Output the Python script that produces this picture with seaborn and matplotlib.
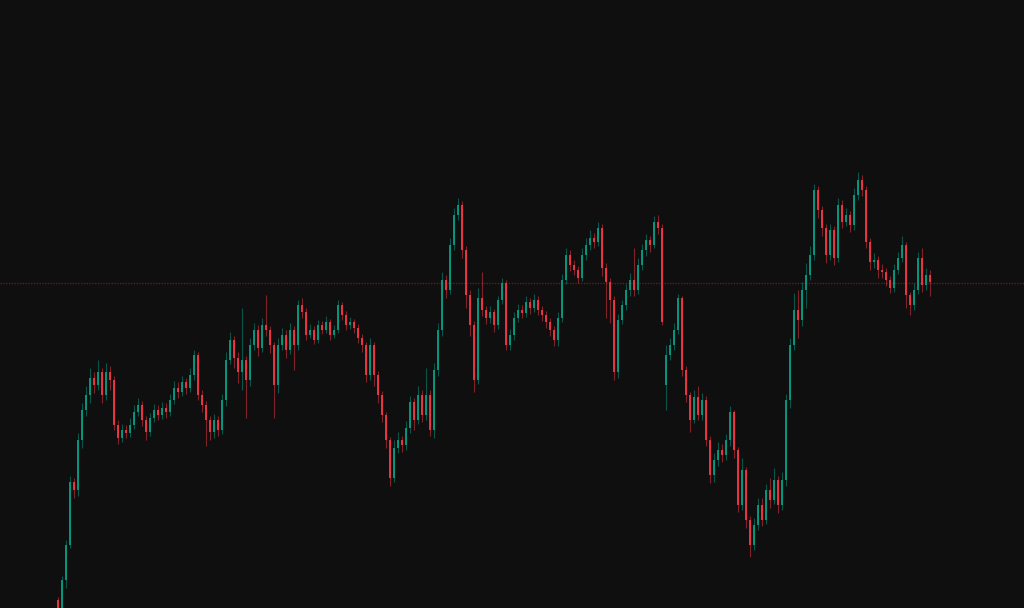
import numpy as np
import pandas as pd
import matplotlib
matplotlib.use("Agg")
import matplotlib.pyplot as plt
import seaborn as sns

# OHLC values (price units, one candle per step)
opens = [
    8, 0, 28, 63, 126, 118, 168, 198, 213, 230, 223, 236, 213, 236, 228, 183, 170, 178, 175, 183,
    196, 203, 188, 176, 190, 198, 193, 200, 196, 208, 220, 216, 226, 220, 233, 253, 213, 203, 188, 176,
    188, 178, 208, 248, 268, 250, 236, 248, 228, 263, 278, 260, 283, 278, 263, 223, 263, 273, 258, 278,
    263, 303, 296, 273, 278, 268, 283, 278, 286, 273, 278, 303, 293, 283, 286, 280, 270, 263, 233, 263,
    233, 213, 193, 168, 130, 160, 168, 163, 180, 206, 188, 213, 193, 213, 178, 238, 278, 328, 318, 363,
    393, 403, 358, 313, 283, 228, 310, 298, 290, 296, 283, 308, 325, 263, 273, 290, 298, 295, 306, 300,
    308, 298, 293, 286, 278, 268, 290, 328, 353, 343, 338, 330, 353, 363, 370, 366, 380, 340, 326, 308,
    236, 288, 303, 318, 328, 318, 343, 358, 368, 363, 386, 380, 223, 253, 263, 278, 310, 238, 213, 188,
    211, 193, 208, 168, 133, 148, 158, 153, 168, 196, 158, 103, 138, 88, 63, 83, 103, 88, 118, 108,
    128, 103, 128, 208, 263, 298, 288, 318, 333, 353, 418, 398, 380, 353, 378, 350, 403, 386, 393, 383,
    413, 428, 418, 366, 346, 348, 338, 336, 328, 320, 338, 350, 363, 313, 303, 318, 350, 323, 333,
]
closes = [
    0, 28, 63, 126, 118, 168, 198, 213, 230, 223, 236, 213, 236, 228, 183, 170, 178, 175, 183, 196,
    203, 188, 176, 190, 198, 193, 200, 196, 208, 220, 216, 226, 220, 233, 253, 213, 203, 188, 176, 188,
    178, 208, 248, 268, 250, 236, 248, 228, 263, 278, 260, 283, 278, 263, 223, 263, 273, 258, 278, 263,
    303, 296, 273, 278, 268, 283, 278, 286, 273, 278, 303, 293, 283, 286, 280, 270, 263, 233, 263, 233,
    213, 193, 168, 130, 160, 168, 163, 180, 206, 188, 213, 193, 213, 178, 238, 278, 328, 318, 363, 393,
    403, 358, 313, 283, 228, 310, 298, 290, 296, 283, 308, 325, 263, 273, 290, 298, 295, 306, 300, 308,
    298, 293, 286, 278, 268, 290, 328, 353, 343, 338, 330, 353, 363, 370, 366, 380, 340, 326, 308, 236,
    288, 303, 318, 328, 318, 343, 358, 368, 363, 386, 380, 286, 253, 263, 278, 310, 238, 213, 188, 211,
    193, 208, 168, 133, 148, 158, 153, 168, 196, 158, 103, 138, 88, 63, 83, 103, 88, 118, 108, 128,
    103, 128, 208, 263, 298, 288, 318, 333, 353, 418, 398, 380, 353, 378, 350, 403, 386, 393, 383, 413,
    428, 418, 366, 346, 348, 338, 336, 328, 320, 338, 350, 363, 313, 303, 318, 350, 323, 333, 326,
]
highs = [
    11, 32, 68, 132, 130, 175, 205, 222, 240, 236, 248, 240, 245, 242, 232, 188, 184, 183, 190, 203,
    210, 207, 192, 195, 204, 203, 206, 205, 214, 227, 226, 232, 230, 240, 258, 256, 218, 207, 192, 194,
    192, 214, 256, 276, 272, 256, 300, 252, 270, 285, 283, 290, 313, 282, 266, 270, 280, 278, 285, 282,
    308, 310, 300, 284, 282, 288, 287, 292, 289, 283, 308, 306, 297, 291, 289, 284, 274, 266, 270, 266,
    237, 217, 196, 171, 168, 176, 172, 187, 212, 210, 222, 218, 240, 218, 245, 285, 336, 333, 370, 400,
    410, 407, 362, 318, 287, 320, 336, 302, 302, 299, 312, 330, 328, 279, 296, 304, 303, 312, 310, 314,
    312, 302, 297, 290, 282, 296, 334, 360, 358, 348, 342, 360, 370, 378, 375, 386, 384, 345, 330, 312,
    294, 308, 324, 335, 360, 350, 364, 374, 372, 392, 393, 384, 263, 270, 285, 314, 312, 242, 216, 218,
    222, 215, 212, 172, 155, 166, 164, 174, 202, 198, 161, 150, 141, 92, 90, 110, 110, 124, 130, 140,
    132, 136, 214, 270, 315, 318, 326, 345, 362, 424, 422, 402, 384, 384, 382, 410, 408, 400, 397, 420,
    436, 433, 422, 370, 355, 352, 344, 340, 332, 344, 356, 372, 366, 316, 325, 356, 360, 340, 338,
]
lows = [
    -5, -5, 20, 60, 110, 112, 160, 192, 205, 215, 218, 205, 208, 218, 178, 164, 166, 170, 171, 179,
    192, 182, 168, 172, 186, 188, 189, 190, 192, 204, 210, 212, 214, 216, 228, 208, 196, 162, 168, 170,
    172, 174, 202, 244, 240, 225, 218, 190, 222, 258, 252, 256, 272, 255, 190, 215, 258, 250, 254, 238,
    258, 290, 268, 270, 264, 265, 274, 275, 268, 270, 275, 288, 278, 279, 275, 265, 256, 226, 228, 222,
    205, 186, 160, 122, 126, 155, 156, 158, 175, 178, 184, 186, 188, 172, 170, 232, 272, 310, 314, 358,
    388, 350, 300, 272, 216, 224, 292, 284, 285, 276, 279, 304, 258, 258, 268, 286, 290, 291, 294, 296,
    293, 287, 280, 272, 262, 262, 286, 324, 337, 333, 325, 327, 348, 358, 360, 362, 332, 290, 285, 228,
    230, 284, 298, 312, 312, 314, 338, 352, 356, 360, 374, 283, 198, 248, 258, 274, 232, 206, 176, 185,
    188, 188, 162, 125, 126, 142, 146, 148, 162, 150, 96, 98, 80, 51, 58, 78, 82, 84, 100, 104,
    95, 98, 122, 200, 258, 270, 282, 300, 328, 348, 390, 372, 345, 348, 343, 346, 380, 382, 376, 378,
    408, 412, 360, 338, 340, 330, 330, 322, 315, 316, 334, 346, 300, 293, 298, 314, 316, 318, 312,
]
level = 325  # horizontal reference level

up_color = "#089981"
down_color = "#f23645"
bg = "#0f0f0f"

df = pd.DataFrame({"open": opens, "high": highs, "low": lows, "close": closes})
df["idx"] = np.arange(len(df))
df["up"] = df["close"] >= df["open"]
df["color"] = np.where(df["up"], up_color, down_color)
df["body_low"] = df[["open", "close"]].min(axis=1)
df["body_h"] = (df["close"] - df["open"]).abs().clip(lower=1)

sns.set_theme(style="dark", rc={"axes.facecolor": bg, "figure.facecolor": bg,
                                "axes.edgecolor": bg, "axes.grid": False})

fig = plt.figure(figsize=(10.24, 6.08), dpi=100)
ax = fig.add_axes([0, 0, 1, 1])

ax.axhline(level, color="#5c1f22", linewidth=1, linestyle=(0, (1, 1)), zorder=1)

ax.vlines(df["idx"], df["low"], df["high"], colors=df["color"], linewidth=0.8, alpha=0.5, zorder=2)
ax.bar(df["idx"], df["body_h"], bottom=df["body_low"], width=0.7, color=df["color"],
       linewidth=0, alpha=0.95, zorder=3)

ax.set_xlim(-14.5, 241.5)
ax.set_ylim(0, 608)
ax.set_xticks([])
ax.set_yticks([])
sns.despine(ax=ax, left=True, bottom=True)

fig.savefig("out.png", dpi=100, facecolor=bg)
